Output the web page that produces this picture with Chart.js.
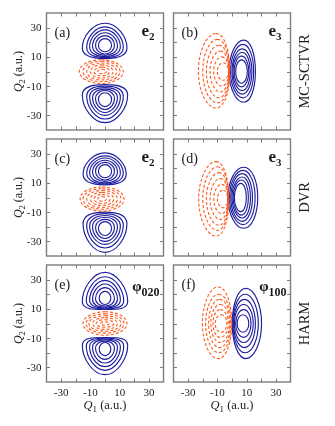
<!DOCTYPE html>
<html>
<head>
<meta charset="utf-8">
<script src="https://cdn.jsdelivr.net/npm/chart.js@4.4.1/dist/chart.umd.min.js"></script>
<style>
  body { margin: 0; background: #fff; }
  #fig { position: relative; width: 335px; height: 426px; overflow: hidden; background: #fff; }
  #fig canvas { position: absolute; }
</style>
</head>
<body>
<div id="fig"></div>
<script>
// --- values (a.u.) ---
const q1Labels = [-30, -10, 10, 30];
const q2Labels = [30, 10, -10, -30];
const tickMarks = [-30, -20, -10, 0, 10, 20, 30];
const methodNames = ['MC-SCTVR', 'DVR', 'HARM'];
const panelTags = ['(a)', '(b)', '(c)', '(d)', '(e)', '(f)'];
const stateBase = ['e', 'e', 'e', 'e', '\u03c6', '\u03c6'];
const stateSub = ['2', '3', '2', '3', '020', '100'];

// one contour ring = [x of top/bottom, y of left/right, west, east, south, north]
// (a) MC-SCTVR e2
const aUp = [[0, 18, -4.5, 4.5, 13.5, 22.5], [0, 18, -6.5, 6.5, 12, 24.5], [0, 17.5, -8.5, 8.5, 11, 26.5],
             [0, 17, -10.5, 10.5, 10.2, 28.5], [0, 16.5, -12.5, 12.5, 9.5, 30.5], [0, 16, -15.5, 15, 8.8, 33]];
const aDown = [[0, -19, -4.5, 4.5, -24, -14.5], [0, -18.5, -6.5, 6.5, -26, -13], [0, -18, -8.5, 8.5, -28, -12],
               [0, -17.5, -10.5, 10.5, -30, -11], [0, -17, -12.5, 12.5, -32.5, -10], [0, -16, -15.5, 15.5, -35, -9]];
const aNeg = [[-2, 0, -5, 1, -1.5, 1.5], [-2, 0, -7.5, 3, -3, 3], [-2.5, 0, -10, 5.5, -4.5, 4.5],
              [-2.5, 0, -12.5, 8, -5.8, 5.8], [-2.5, 0, -15, 10.3, -7, 7], [-2.5, 0, -17.5, 12.5, -8.2, 8]];
// (b) MC-SCTVR e3
const bPos = [[6.5, 0, 2.5, 10.5, -8, 8], [6.5, 0, 1.5, 11.5, -10.5, 10.5], [7, 0, 0.7, 12.5, -13, 13],
              [7, 0, 0, 13.6, -15.5, 15.5], [7.5, 0, -1, 14.8, -18, 18.5], [8, 0, -2, 16, -21, 21.5]];
const bNeg = [[-6, 0, -10, -2.5, -6, 6], [-7, 0, -12.5, -2.2, -10, 10], [-8, 0, -15, -2, -14, 14],
              [-9, 0, -17.5, -1.8, -18, 18], [-10, 0, -20, -1.6, -21.5, 22], [-11, 0, -23, -1.5, -25, 26]];
// (c) DVR e2
const cUp = [[0, 18, -4.5, 4.5, 13.5, 22.5], [0, 18, -6.5, 6.5, 12, 24], [0, 17.5, -8.5, 8.5, 11, 25.5],
             [0, 17, -10.5, 10.5, 10, 27], [0, 16.5, -12.5, 12.5, 9.3, 28.5], [0, 16, -15, 14.5, 8.6, 30.5]];
const cDown = [[0, -21, -4.5, 4.5, -26, -16.5], [0, -20.5, -6.5, 6.5, -28, -15], [0, -20, -8.5, 8.5, -30, -13.5],
               [0, -19.5, -10.5, 10.5, -32, -12.3], [0, -19, -12.5, 12.5, -34.5, -11], [0, -18, -15, 15, -37.5, -10]];
const cNeg = [[-2, -1, -5, 1, -2.5, 0.5], [-2, -1, -7.5, 3.5, -4, 2], [-2, -1, -10, 6, -5.5, 3.5],
              [-2, -1, -12.5, 8.5, -6.8, 4.8], [-2, -1, -15, 11, -8, 6], [-2, -1, -17, 13, -9.3, 7.2]];
// (d) DVR e3
const dPos = [[6, 0, 1.6, 9.8, -9.7, 9.7], [6.5, 0, 0.8, 11.2, -12, 12], [7, 0, 0, 12.6, -14, 14],
              [7, 0, -0.8, 14, -16.3, 16.3], [7.5, 0, -1.7, 15.8, -18.5, 18.5], [8, 0, -2.7, 17.6, -21, 20.7]];
const dNeg = [[-6, -1, -10, -3, -7, 5], [-7, -1, -12.5, -2.8, -11, 9], [-8, -1, -15, -2.6, -15, 13],
              [-9, -1, -17.5, -2.4, -19, 17], [-10, -1, -20, -2.3, -22.5, 21], [-11, -1, -22.8, -2.2, -26.4, 24.5]];
// (e) HARM phi020
const eUp = [[0, 17.5, -4, 4, 13, 22], [0, 17, -6.5, 6.5, 12, 24.5], [0, 16.5, -8.5, 8.5, 11.2, 27],
             [0, 16, -10.5, 10.5, 10.6, 29.5], [0, 15.5, -12.8, 12.8, 10.1, 32], [0, 15, -15.5, 15.5, 9.6, 35]];
const eDown = [[0, -17.5, -4, 4, -22, -13], [0, -17, -6.5, 6.5, -24.5, -12], [0, -16.5, -8.5, 8.5, -27, -11.2],
               [0, -16, -10.5, 10.5, -29.5, -10.6], [0, -15.5, -12.8, 12.8, -32, -10.1], [0, -15, -15.5, 15.5, -35, -9.6]];
const eNeg = [[0, 0, -3, 3, -1.2, 1.2], [0, 0, -6, 6, -2.6, 2.6], [0, 0, -8.5, 8.5, -4, 4],
              [0, 0, -11, 11, -5.3, 5.3], [0, 0, -13, 13, -6.6, 6.6], [0, 0, -15, 15, -8, 8]];
// (f) HARM phi100
const fPos = [[7.5, 0, 3.5, 11.5, -6, 6], [8, 0, 2.5, 13, -9.5, 9.5], [8, 0, 1.7, 14.5, -13, 13],
              [8.5, 0, 1.1, 16, -16.5, 16.5], [9, 0, 0.6, 18, -20, 20], [9.5, 0, 0.2, 20.2, -24, 24]];
const fNeg = [[-7.5, 0, -11.5, -3.5, -6, 6], [-8, 0, -13, -2.5, -9.5, 9.5], [-8, 0, -14.5, -1.7, -13, 13],
              [-8.5, 0, -16, -1.1, -16.5, 16.5], [-9, 0, -18, -0.6, -20, 20], [-9.5, 0, -20.2, -0.2, -24, 25]];

const posLobes = [[aUp, aDown], [bPos], [cUp, cDown], [dPos], [eUp, eDown], [fPos]];
const negLobes = [[aNeg], [bNeg], [cNeg], [dNeg], [eNeg], [fNeg]];

// --- look ---
const BLUE = '#1e1e9e';
const RED = '#ff5a1e';
const FRAME = '#7d7d7d';
const INK = '#1a1a1a';
const SERIF = '"Liberation Serif", "Times New Roman", serif';

const cols = [{ left: 0, width: 168, padL: 46.5, padR: 4.5 },
              { left: 168, width: 167, padL: 5.5, padR: 44.5 }];
const rows = [{ top: 0, height: 135, padT: 13, padB: 5 },
              { top: 135, height: 126, padT: 4, padB: 5 },
              { top: 261, height: 165, padT: 4, padB: 44 }];

// W, N, E, S, W, N, E : the two outer legs are hidden, they only bend the loop closed
function ringPoints(r) {
  const [xm, ym, w, e, s, n] = r;
  const W = { x: w, y: ym }, N = { x: xm, y: n }, E = { x: e, y: ym }, S = { x: xm, y: s };
  return [W, N, E, S, W, N, E];
}
const hideEnds = c => (c.p0DataIndex === 0 || c.p0DataIndex === 5) ? 'rgba(0,0,0,0)' : undefined;

function textRuns(ctx, parts, x, y, align) {
  let total = 0;
  parts.forEach(p => { ctx.font = p.f; p.w = ctx.measureText(p.t).width; total += p.w; });
  let cx = align === 'center' ? x - total / 2 : align === 'right' ? x - total : x;
  ctx.textAlign = 'left';
  ctx.textBaseline = 'alphabetic';
  parts.forEach(p => { ctx.font = p.f; ctx.fillText(p.t, cx, y + (p.dy || 0)); cx += p.w; });
}

const decor = {
  id: 'decor',
  afterDraw(chart, args, o) {
    const { ctx, chartArea: a } = chart;
    const xs = chart.scales.x, ys = chart.scales.y;
    const p = o.panel, row = Math.floor(p / 2), col = p % 2;
    ctx.save();
    // frame + inward ticks
    ctx.strokeStyle = FRAME;
    ctx.lineWidth = 1.4;
    ctx.strokeRect(a.left, a.top, a.right - a.left, a.bottom - a.top);
    ctx.lineWidth = 1;
    ctx.beginPath();
    tickMarks.forEach(v => {
      const px = Math.round(xs.getPixelForValue(v)) + 0.5, py = Math.round(ys.getPixelForValue(v)) + 0.5;
      ctx.moveTo(px, a.top); ctx.lineTo(px, a.top + 3.5);
      ctx.moveTo(px, a.bottom); ctx.lineTo(px, a.bottom - 3.5);
      ctx.moveTo(a.left, py); ctx.lineTo(a.left + 3.5, py);
      ctx.moveTo(a.right, py); ctx.lineTo(a.right - 3.5, py);
    });
    ctx.stroke();

    ctx.fillStyle = INK;
    // tick labels
    ctx.font = '11px ' + SERIF;
    if (col === 0) {
      ctx.textAlign = 'right';
      ctx.textBaseline = 'middle';
      q2Labels.forEach(v => ctx.fillText(String(v), a.left - 5, ys.getPixelForValue(v) + 0.5));
    }
    if (row === 2) {
      ctx.textAlign = 'center';
      ctx.textBaseline = 'alphabetic';
      q1Labels.forEach(v => ctx.fillText(String(v), xs.getPixelForValue(v), a.bottom + 14));
      textRuns(ctx, [{ t: 'Q', f: 'italic 12.5px ' + SERIF }, { t: '1', f: '9px ' + SERIF, dy: 3 },
                     { t: ' (a.u.)', f: '12.5px ' + SERIF }], (a.left + a.right) / 2, a.bottom + 27, 'center');
    }
    // panel tag and state label
    ctx.font = '14px ' + SERIF;
    ctx.textAlign = 'left';
    ctx.textBaseline = 'alphabetic';
    ctx.fillText(panelTags[p], a.left + 8, a.top + 24);
    if (stateBase[p] === 'e') {
      textRuns(ctx, [{ t: 'e', f: 'bold 17px ' + SERIF }, { t: stateSub[p], f: 'bold 11px ' + SERIF, dy: 4 }],
               a.right - 9, a.top + 23, 'right');
    } else {
      textRuns(ctx, [{ t: stateBase[p], f: 'bold 15px ' + SERIF }, { t: stateSub[p], f: 'bold 12px ' + SERIF, dy: 5 }],
               a.right - 4, a.top + 26, 'right');
    }
    // y title (left column) and method name (right column)
    const cy = (a.top + a.bottom) / 2;
    if (col === 0) {
      ctx.save();
      ctx.translate(21.5, cy);
      ctx.rotate(-Math.PI / 2);
      textRuns(ctx, [{ t: 'Q', f: 'italic 12px ' + SERIF }, { t: '2', f: '8.5px ' + SERIF, dy: 3 },
                     { t: ' (a.u.)', f: '12px ' + SERIF }], 0, 0, 'center');
      ctx.restore();
    } else {
      ctx.save();
      ctx.translate(140.5, cy);
      ctx.rotate(-Math.PI / 2);
      textRuns(ctx, [{ t: methodNames[row], f: '14.5px ' + SERIF }], 0, 0, 'center');
      ctx.restore();
    }
    ctx.restore();
  }
};

const fig = document.getElementById('fig');
for (let p = 0; p < 6; p++) {
  const row = rows[Math.floor(p / 2)], col = cols[p % 2];
  const canvas = document.createElement('canvas');
  canvas.width = col.width;
  canvas.height = row.height;
  canvas.style.left = col.left + 'px';
  canvas.style.top = row.top + 'px';
  fig.appendChild(canvas);

  const datasets = [];
  negLobes[p].forEach(lobe => lobe.forEach(r => datasets.push({
    data: ringPoints(r), showLine: true, pointRadius: 0, borderColor: RED, borderWidth: 1.1,
    borderDash: [3, 2], tension: 0.55, segment: { borderColor: hideEnds }
  })));
  posLobes[p].forEach(lobe => lobe.forEach(r => datasets.push({
    data: ringPoints(r), showLine: true, pointRadius: 0, borderColor: BLUE, borderWidth: 1.15,
    tension: 0.55, segment: { borderColor: hideEnds }
  })));

  new Chart(canvas, {
    type: 'scatter',
    data: { datasets },
    options: {
      responsive: false,
      devicePixelRatio: 1,
      animation: false,
      events: [],
      layout: { padding: { left: col.padL, right: col.padR, top: row.padT, bottom: row.padB } },
      scales: {
        x: { type: 'linear', min: -40, max: 40, display: false },
        y: { type: 'linear', min: -40, max: 40, display: false }
      },
      plugins: { legend: { display: false }, tooltip: { enabled: false }, decor: { panel: p } }
    },
    plugins: [decor]
  });
}
</script>
</body>
</html>
